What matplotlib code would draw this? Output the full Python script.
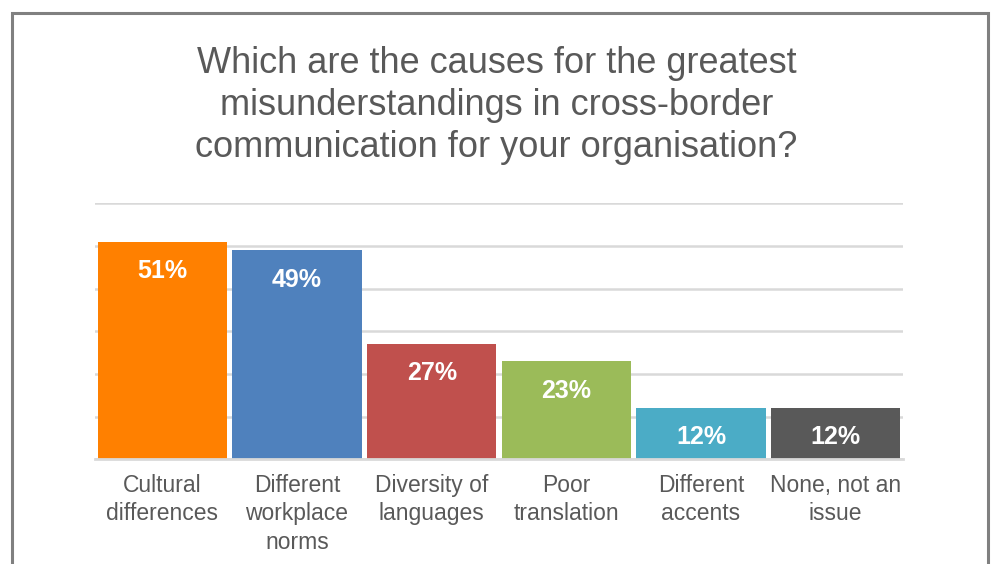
import matplotlib.pyplot as plt
from matplotlib.patches import Rectangle

# --- data ---
categories = ["Cultural\ndifferences", "Different\nworkplace\nnorms", "Diversity of\nlanguages",
              "Poor\ntranslation", "Different\naccents", "None, not an\nissue"]
values = [51, 49, 27, 23, 12, 12]
colors = ["#FF8000", "#4F81BD", "#C0504D", "#9BBB59", "#4BACC6", "#595959"]

title = "Which are the causes for the greatest\nmisunderstandings in cross-border\ncommunication for your organisation?"

plt.rcParams['font.family'] = ['Liberation Sans', 'DejaVu Sans']
text_col = "#595959"

fig = plt.figure(figsize=(9.93, 5.64), dpi=100)
fig.patch.set_facecolor("white")

# outer grey frame (runs off the bottom edge)
fig.patches.append(Rectangle((12 / 993, -0.1), (988 - 12) / 993, 1.1 - 13 / 564,
                             transform=fig.transFigure, fill=False,
                             edgecolor="#808080", linewidth=2.2))

ax = fig.add_axes([0.0957, 0.1853, 0.8137, 0.4539])
x = range(len(values))
bars = ax.bar(x, values, width=0.96, color=colors, zorder=3)

ax.set_ylim(0, 60)
ax.set_xlim(-0.5, len(values) - 0.5)
ax.set_yticks(range(0, 61, 10))
ax.yaxis.grid(True, color="#D9D9D9", linewidth=1.8, zorder=0)
ax.tick_params(axis="y", left=False, labelleft=False)
ax.tick_params(axis="x", bottom=False, pad=7)
for s in ["top", "right", "left"]:
    ax.spines[s].set_visible(False)
ax.spines["bottom"].set_color("#D9D9D9")
ax.spines["bottom"].set_linewidth(2)
ax.spines["bottom"].set_zorder(4)

ax.set_xticks(list(x))
ax.set_xticklabels(categories, fontsize=16.5, color=text_col, linespacing=1.3, va="top")

for b, v in zip(bars, values):
    ax.annotate(f"{v}%", (b.get_x() + b.get_width() / 2, v), xytext=(0, -21),
                textcoords="offset points", ha="center", va="center",
                color="white", fontsize=18, fontweight="bold", zorder=5)

fig.text(0.5, 0.813, title, ha="center", va="center", fontsize=26,
         color=text_col, linespacing=1.26)

fig.savefig("out.png", dpi=100)
